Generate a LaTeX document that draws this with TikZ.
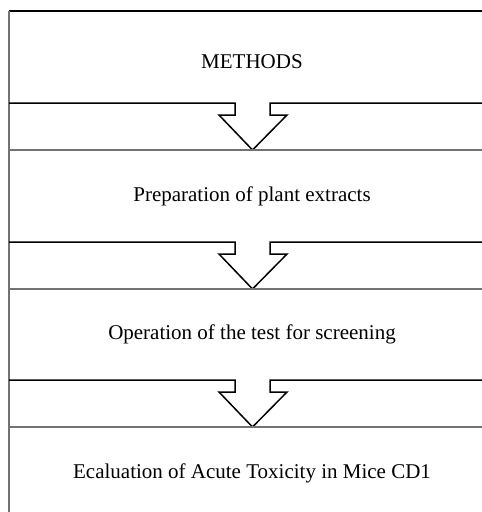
\documentclass[tikz,border=0pt]{standalone}
\usepackage{fontspec}
\setmainfont{Liberation Serif}
\begin{document}
\begin{tikzpicture}[x=1pt,y=-1pt,
  blk/.style={line width=1.5pt,black,line join=miter},
  gry/.style={line width=1.3pt,black!55},
  lbl/.style={font=\fontsize{21}{25}\selectfont,inner sep=0pt}]
\useasboundingbox (0,0) rectangle (482,512);
\draw[blk] (9,11) -- (482,11);
\draw[gry] (9,11) -- (9,512);
\foreach \y in {103,242,380}{
  \draw[blk] (9,\y) -- (235,\y) -- (235,\y+12) -- (219,\y+12) -- (252.5,\y+47)
    -- (287,\y+12) -- (270,\y+12) -- (270,\y) -- (482,\y);
  \draw[gry] (9,\y+47) -- (482,\y+47);
}
\node[lbl] (m) at (252,62) {METHODS};
\node[lbl] (p) at (252,196) {Preparation of plant extracts};
\node[lbl] (o) at (252,334) {Operation of the test for screening};
\node[lbl] (e) at (252,473) {Ecaluation of Acute Toxicity in Mice CD1};
\end{tikzpicture}
\end{document}
